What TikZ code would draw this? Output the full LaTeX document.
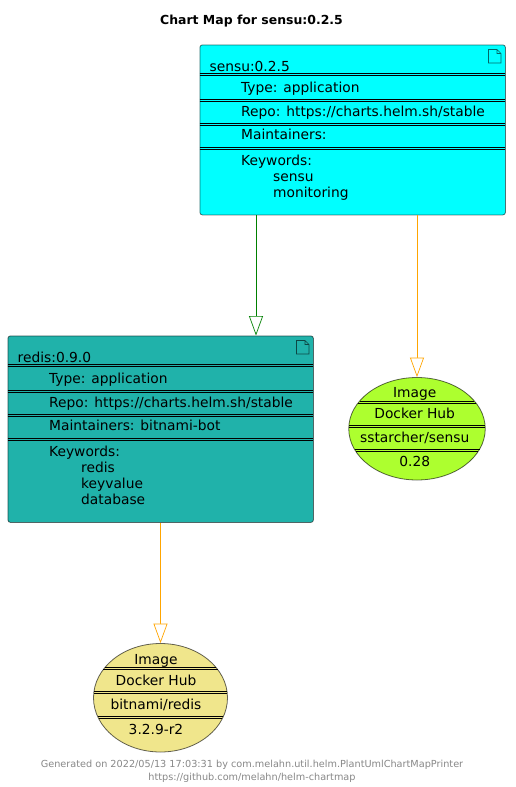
\documentclass[tikz,border=0pt]{standalone}
\usepackage{fontspec}
\setmainfont{DejaVu Sans}
\usetikzlibrary{arrows.meta,shapes.geometric}
\definecolor{cCyan}{HTML}{00FFFF}
\definecolor{cSea}{HTML}{20B2AA}
\definecolor{cLime}{HTML}{ADFF2F}
\definecolor{cKhaki}{HTML}{F0E68C}
\definecolor{cFoot}{HTML}{888888}
\definecolor{cGreen}{HTML}{008000}
\definecolor{cOrange}{HTML}{FFA500}
\tikzset{
  x=1pt,y=-1pt,
  chartbox/.style={draw=black,draw opacity=.55,line width=.8pt,rounded corners=2.5pt,inner sep=0,minimum width=305.5pt},
  imgblob/.style={ellipse,draw=black,draw opacity=.6,line width=.8pt,inner sep=0},
  rowtext/.style={anchor=base west,inner sep=0,font=\fontsize{13.8}{15}\selectfont},
  imgtext/.style={anchor=base,inner sep=0,font=\fontsize{13.8}{15}\selectfont},
  footer/.style={anchor=base,inner sep=0,font=\fontsize{9.7}{11}\selectfont,text=cFoot},
  titletext/.style={anchor=base,inner sep=0,font=\fontsize{12.45}{15}\selectfont\bfseries},
  sepline/.style={line width=.7pt,black},
  docicon/.style={line width=.6pt,draw=black,draw opacity=.6},
  linkg/.style={cGreen,line width=.7pt,-{Triangle[open,length=19.5pt,width=14pt,fill=white]}},
  linko/.style={cOrange,line width=.7pt,-{Triangle[open,length=19.5pt,width=14pt,fill=white]}},
}
\begin{document}
\begin{tikzpicture}
\useasboundingbox (0,0) rectangle (516,787);
\fill[white] (0,0) rectangle (516,787);
\node[titletext] (title) at (251.5,24) {Chart Map for sensu:0.2.5};

% chart boxes
\node[chartbox,fill=cCyan,minimum height=170pt,anchor=north west] (sensu) at (199.5,44.5) {};
\node[chartbox,fill=cSea,minimum height=186.5pt,anchor=north west] (redis) at (7.5,335.5) {};

% image ellipses
\node[imgblob,fill=cLime,minimum width=136.5pt,minimum height=102.5pt] (imgA) at (417,428.75) {};
\node[imgblob,fill=cKhaki,minimum width=134pt,minimum height=108.5pt] (imgB) at (160.5,697.75) {};

% separators sensu
\foreach \yy in {73.5,75.5,99,101,123,125,147,149}
  \draw[sepline] (199.5,\yy) -- (505,\yy);
% separators redis
\foreach \yy in {364.5,366.5,390,392,414,416,438.5,440.5}
  \draw[sepline] (7.5,\yy) -- (313,\yy);
% separators ellipse A
\draw[sepline] (360,401) -- (474,401);
\draw[sepline] (358,403) -- (476,403);
\draw[sepline] (349,425) -- (485,425);
\draw[sepline] (349,427) -- (485,427);
\draw[sepline] (354.5,449) -- (479.5,449);
\draw[sepline] (356,451) -- (478,451);
% separators ellipse B
\draw[sepline] (105,667.5) -- (216,667.5);
\draw[sepline] (103.3,669.5) -- (217.7,669.5);
\draw[sepline] (94,691.5) -- (227,691.5);
\draw[sepline] (94,693.5) -- (227,693.5);
\draw[sepline] (97.6,716.5) -- (223.4,716.5);
\draw[sepline] (98.6,718.5) -- (222.4,718.5);

% document icons
\draw[docicon] (488.5,49.5) -- (497,49.5) -- (501,53.5) -- (501,63) -- (488.5,63) -- cycle (497,49.5) -- (497,53.5) -- (501,53.5);
\draw[docicon] (296.5,340.5) -- (305,340.5) -- (309,344.5) -- (309,354) -- (296.5,354) -- cycle (305,340.5) -- (305,344.5) -- (309,344.5);

% sensu texts
\node[rowtext] (s0) at (209.5,71) {sensu:0.2.5};
\node[rowtext] (s1) at (241,92) {Type: application};
\node[rowtext] (s2) at (241,116) {Repo: https://charts.helm.sh/stable};
\node[rowtext] (s3) at (241,139.5) {Maintainers:};
\node[rowtext] (s4) at (241,165) {Keywords:};
\node[rowtext] (s5) at (273,181) {sensu};
\node[rowtext] (s6) at (273,197) {monitoring};

% redis texts
\node[rowtext] (r0) at (17.5,362) {redis:0.9.0};
\node[rowtext] (r1) at (49,383) {Type: application};
\node[rowtext] (r2) at (49,407) {Repo: https://charts.helm.sh/stable};
\node[rowtext] (r3) at (49,430.5) {Maintainers: bitnami-bot};
\node[rowtext] (r4) at (49,456) {Keywords:};
\node[rowtext] (r5) at (81,472) {redis};
\node[rowtext] (r6) at (81,488) {keyvalue};
\node[rowtext] (r7) at (81,504) {database};

% ellipse A texts
\node[imgtext] (a0) at (414.7,397) {Image};
\node[imgtext] (a1) at (414.7,418) {Docker Hub};
\node[imgtext] (a2) at (414.7,442) {sstarcher/sensu};
\node[imgtext] (a3) at (414.7,466) {0.28};

% ellipse B texts
\node[imgtext] (b0) at (156,664) {Image};
\node[imgtext] (b1) at (156,685) {Docker Hub};
\node[imgtext] (b2) at (156,709) {bitnami/redis};
\node[imgtext] (b3) at (156,734) {3.2.9-r2};

% connectors
\coordinate (depx) at (256,0);
\draw[linkg] (depx |- sensu.south) -- (depx |- redis.north);
\draw[linko] (imgA.north |- sensu.south) -- (imgA.north);
\draw[linko] (imgB.north |- redis.south) -- (imgB.north);

\node[footer] (f0) at (252,767) {Generated on 2022/05/13 17:03:31 by com.melahn.util.helm.PlantUmlChartMapPrinter};
\node[footer] (f1) at (252,780) {https://github.com/melahn/helm-chartmap};
\end{tikzpicture}
\end{document}
